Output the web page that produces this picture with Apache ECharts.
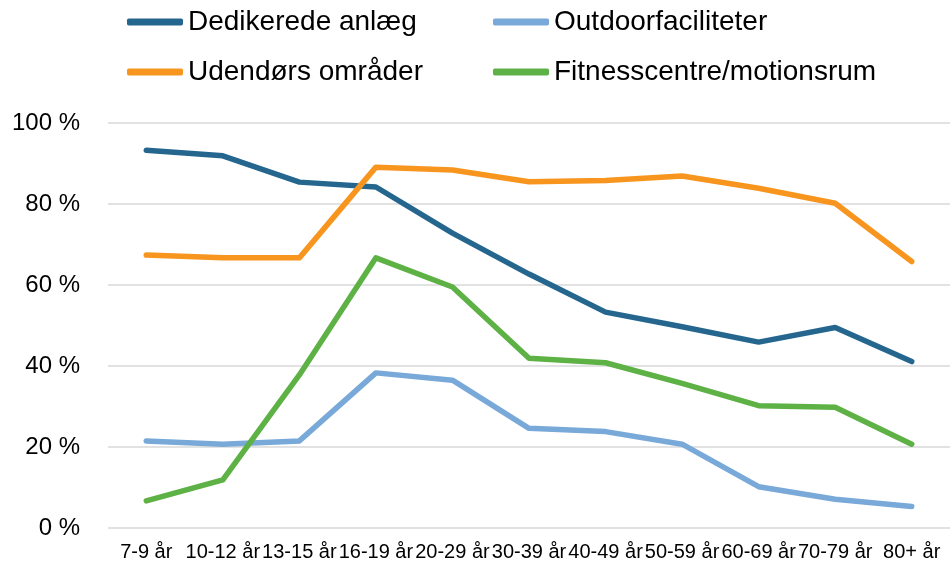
<!DOCTYPE html>
<html>
<head>
<meta charset="utf-8">
<script src="https://cdn.jsdelivr.net/npm/echarts@6/dist/echarts.min.js"></script>
<style>
html,body{margin:0;padding:0;background:#fff;}
#chart{width:950px;height:568px;}
</style>
</head>
<body>
<div id="chart"></div>
<script>
const categories = ['7-9 år','10-12 år','13-15 år','16-19 år','20-29 år','30-39 år','40-49 år','50-59 år','60-69 år','70-79 år','80+ år'];
const dedikeredeAnlaeg = [93.3, 91.9, 85.4, 84.2, 72.8, 62.7, 53.3, 49.7, 45.9, 49.5, 41.1];
const outdoorfaciliteter = [21.5, 20.7, 21.5, 38.3, 36.5, 24.6, 23.8, 20.7, 10.2, 7.1, 5.3];
const udendoersOmraader = [67.4, 66.7, 66.7, 89.1, 88.4, 85.5, 85.8, 86.9, 83.9, 80.2, 65.8];
const fitnesscentre = [6.7, 11.9, 37.8, 66.7, 59.5, 41.9, 40.8, 35.7, 30.2, 29.8, 20.7];
const yTicks = [0, 20, 40, 60, 80, 100];

const FONT = '"Liberation Sans", Arial, sans-serif';
const seriesDefs = [
  {name:'Dedikerede anlæg', data: dedikeredeAnlaeg, color:'#25668F'},
  {name:'Outdoorfaciliteter', data: outdoorfaciliteter, color:'#78A9D9'},
  {name:'Udendørs områder', data: udendoersOmraader, color:'#F7951F'},
  {name:'Fitnesscentre/motionsrum', data: fitnesscentre, color:'#5DB145'}
];
const legendPos = [
  {left:127, top:8},
  {left:493, top:8},
  {left:127, top:58},
  {left:493, top:58}
];

const chart = echarts.init(document.getElementById('chart'), null, {renderer:'canvas'});
chart.setOption({
  animation:false,
  backgroundColor:'#ffffff',
  legend: seriesDefs.map((s,i)=>({
    show:true,
    data:[{name:s.name, icon:'roundRect', itemStyle:{color:s.color}}],
    left: legendPos[i].left,
    top: legendPos[i].top,
    itemWidth:56,
    itemHeight:7,
    itemGap:0,
    textStyle:{fontFamily:FONT, fontSize:28, color:'#000'},
    padding:0
  })),
  grid:{left:108, top:123, width:846, height:405, containLabel:false},
  xAxis:{
    type:'category',
    data:categories,
    boundaryGap:true,
    axisLine:{show:false},
    axisTick:{show:false},
    axisLabel:{interval:0, fontFamily:FONT, fontSize:20, color:'#000', margin:14, hideOverlap:false}
  },
  yAxis:{
    type:'value',
    min:yTicks[0],
    max:yTicks[yTicks.length-1],
    interval:20,
    axisLine:{show:false},
    axisTick:{show:false},
    splitLine:{lineStyle:{color:'#d9d9d9', width:1.5}},
    axisLabel:{fontFamily:FONT, fontSize:24, color:'#000', margin:28, formatter:v=>v+' %'}
  },
  series: seriesDefs.map(s=>({
    name:s.name,
    type:'line',
    data:s.data,
    symbol:'none',
    color:s.color,
    lineStyle:{width:5.5, color:s.color, cap:'round', join:'round'},
    itemStyle:{color:s.color}
  }))
});
</script>
</body>
</html>
